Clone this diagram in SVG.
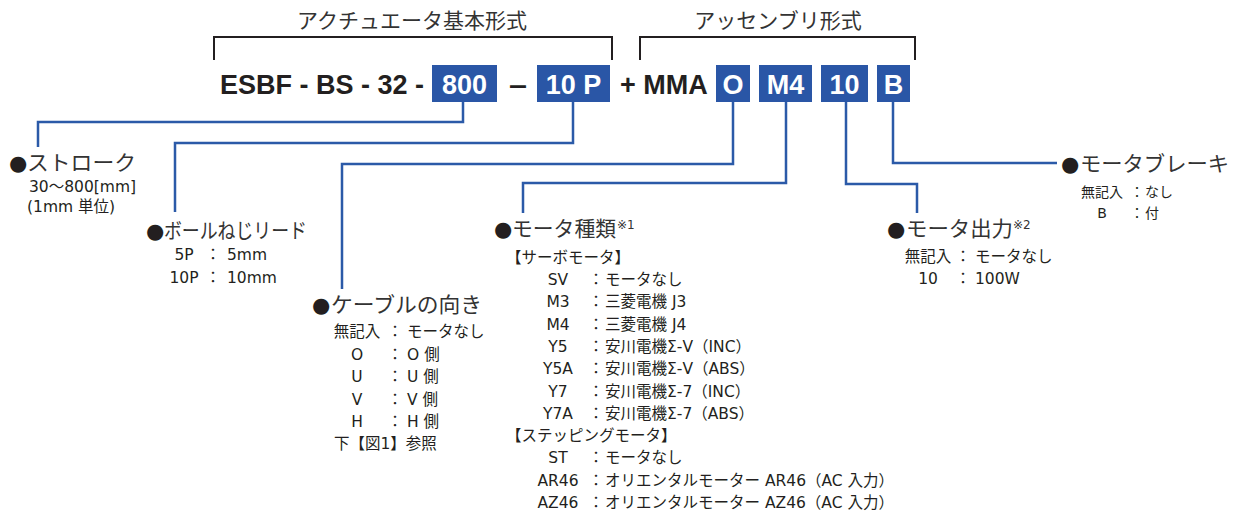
<svg xmlns="http://www.w3.org/2000/svg" width="1240" height="516" viewBox="0 0 1240 516">
<style>
.hd{font-family:"Noto Sans CJK JP","DejaVu Sans",sans-serif;font-size:21px;fill:#333}
.main{font-family:"Liberation Sans",Arial,sans-serif;font-size:27px;font-weight:bold;fill:#231f20}
.box{fill:#2a56a6}
.bt{font-family:"Liberation Sans",Arial,sans-serif;font-size:27px;font-weight:bold;fill:#fff;text-anchor:middle}
.br{fill:none;stroke:#231f20;stroke-width:2}
.cn{fill:none;stroke:#2b5aa8;stroke-width:2.5}
.dot{font-family:"DejaVu Sans",sans-serif;font-size:21px;fill:#231f20}
.ti{font-family:"Noto Sans CJK JP","DejaVu Sans",sans-serif;font-size:21px;fill:#333}
.sup{font-family:"DejaVu Sans","Noto Sans CJK JP",sans-serif;font-size:12px;fill:#333}
.it{font-family:"DejaVu Sans","Noto Sans CJK JP",sans-serif;font-size:15.5px;fill:#231f20}
.sm{font-family:"DejaVu Sans","Noto Sans CJK JP",sans-serif;font-size:14px;fill:#231f20}
.c{text-anchor:middle}
</style>

<g id="header">
  <text class="hd c" x="412" y="28">アクチュエータ基本形式</text>
  <text class="hd c" x="778" y="28">アッセンブリ形式</text>
  <path class="br" d="M214,60 V37 H612 V60"/>
  <path class="br" d="M640,60 V37 H915 V60"/>
</g>

<g id="model">
  <text class="main" x="220" y="94">ESBF - BS - 32 -</text>
  <text class="main" x="509" y="94" textLength="18" lengthAdjust="spacingAndGlyphs">–</text>
  <text class="main" x="620" y="94">+ MMA</text>
  <g id="box-800"><rect class="box" x="432" y="65" width="65" height="37"/><text class="bt" x="464.5" y="94">800</text></g>
  <g id="box-10p"><rect class="box" x="537" y="65" width="73" height="37"/><text class="bt" x="573.5" y="94">10 P</text></g>
  <g id="box-o"><rect class="box" x="716" y="65" width="34" height="37"/><text class="bt" x="733" y="94">O</text></g>
  <g id="box-m4"><rect class="box" x="759" y="65" width="53" height="37"/><text class="bt" x="785.5" y="94">M4</text></g>
  <g id="box-10"><rect class="box" x="821" y="65" width="47" height="37"/><text class="bt" x="844.5" y="94">10</text></g>
  <g id="box-b"><rect class="box" x="877" y="65" width="33" height="37"/><text class="bt" x="893.5" y="94">B</text></g>
</g>

<g id="connectors">
  <path class="cn" d="M463,102 V122 H38 V147"/>
  <path class="cn" d="M573,102 V143 H175 V212"/>
  <path class="cn" d="M733,102 V164 H342 V289"/>
  <path class="cn" d="M786,102 V183 H523 V213"/>
  <path class="cn" d="M846,102 V184 H917 V213"/>
  <path class="cn" d="M893,102 V163 H1057"/>
</g>

<g id="stroke">
  <text class="dot" x="9" y="170">●</text>
  <text class="ti" x="27" y="170" textLength="109" lengthAdjust="spacingAndGlyphs">ストローク</text>
  <text class="it" x="29" y="192">30〜800[mm]</text>
  <text class="it" x="27" y="212">(1mm 単位)</text>
</g>

<g id="lead">
  <text class="dot" x="146" y="238">●</text>
  <text class="ti" x="164" y="238" textLength="143" lengthAdjust="spacingAndGlyphs">ボールねじリード</text>
  <text class="it c" x="184" y="260">5P</text><text class="it c" x="213" y="260">：</text><text class="it" x="227" y="260">5mm</text>
  <text class="it c" x="184" y="283">10P</text><text class="it c" x="213" y="283">：</text><text class="it" x="227" y="283">10mm</text>
</g>

<g id="cable">
  <text class="dot" x="312" y="312">●</text>
  <text class="ti" x="331" y="312" textLength="151" lengthAdjust="spacingAndGlyphs">ケーブルの向き</text>
  <text class="it c" x="357" y="337">無記入</text><text class="it c" x="395" y="337">：</text><text class="it" x="407" y="337">モータなし</text>
  <text class="it c" x="357" y="359.5">O</text><text class="it c" x="395" y="359.5">：</text><text class="it" x="407" y="359.5">O 側</text>
  <text class="it c" x="357" y="382">U</text><text class="it c" x="395" y="382">：</text><text class="it" x="407" y="382">U 側</text>
  <text class="it c" x="357" y="404.5">V</text><text class="it c" x="395" y="404.5">：</text><text class="it" x="407" y="404.5">V 側</text>
  <text class="it c" x="357" y="427">H</text><text class="it c" x="395" y="427">：</text><text class="it" x="407" y="427">H 側</text>
  <text class="it" x="334" y="449">下【図1】参照</text>
</g>

<g id="motor-type">
  <text class="dot" x="494" y="236">●</text>
  <text class="ti" x="512" y="236" textLength="104" lengthAdjust="spacingAndGlyphs">モータ種類</text>
  <text class="sup" x="617" y="229">※1</text>
  <text class="it" x="506" y="262.5">【サーボモータ】</text>
  <text class="it c" x="558" y="285">SV</text><text class="it c" x="596" y="285">：</text><text class="it" x="605" y="285">モータなし</text>
  <text class="it c" x="558" y="307.3">M3</text><text class="it c" x="596" y="307.3">：</text><text class="it" x="605" y="307.3">三菱電機 J3</text>
  <text class="it c" x="558" y="329.6">M4</text><text class="it c" x="596" y="329.6">：</text><text class="it" x="605" y="329.6">三菱電機 J4</text>
  <text class="it c" x="558" y="351.9">Y5</text><text class="it c" x="596" y="351.9">：</text><text class="it" x="605" y="351.9">安川電機Σ-V（INC）</text>
  <text class="it c" x="558" y="374.2">Y5A</text><text class="it c" x="596" y="374.2">：</text><text class="it" x="605" y="374.2">安川電機Σ-V（ABS）</text>
  <text class="it c" x="558" y="396.5">Y7</text><text class="it c" x="596" y="396.5">：</text><text class="it" x="605" y="396.5">安川電機Σ-7（INC）</text>
  <text class="it c" x="558" y="418.8">Y7A</text><text class="it c" x="596" y="418.8">：</text><text class="it" x="605" y="418.8">安川電機Σ-7（ABS）</text>
  <text class="it" x="506" y="441.1">【ステッピングモータ】</text>
  <text class="it c" x="558" y="463.4">ST</text><text class="it c" x="596" y="463.4">：</text><text class="it" x="605" y="463.4">モータなし</text>
  <text class="it c" x="558" y="485.7">AR46</text><text class="it c" x="596" y="485.7">：</text><text class="it" x="605" y="485.7">オリエンタルモーター AR46（AC 入力）</text>
  <text class="it c" x="558" y="508">AZ46</text><text class="it c" x="596" y="508">：</text><text class="it" x="605" y="508">オリエンタルモーター AZ46（AC 入力）</text>
</g>

<g id="motor-output">
  <text class="dot" x="887" y="236">●</text>
  <text class="ti" x="906" y="236" textLength="107" lengthAdjust="spacingAndGlyphs">モータ出力</text>
  <text class="sup" x="1013" y="229">※2</text>
  <text class="it c" x="928" y="262">無記入</text><text class="it c" x="963" y="262">：</text><text class="it" x="975" y="262">モータなし</text>
  <text class="it c" x="928" y="284">10</text><text class="it c" x="963" y="284">：</text><text class="it" x="975" y="284">100W</text>
</g>

<g id="brake">
  <text class="dot" x="1061" y="171">●</text>
  <text class="ti" x="1080" y="171" textLength="149" lengthAdjust="spacingAndGlyphs">モータブレーキ</text>
  <text class="sm c" x="1102" y="197">無記入</text><text class="sm c" x="1137" y="197">：</text><text class="sm" x="1145" y="197">なし</text>
  <text class="sm c" x="1102" y="218">B</text><text class="sm c" x="1137" y="218">：</text><text class="sm" x="1145" y="218">付</text>
</g>
</svg>
